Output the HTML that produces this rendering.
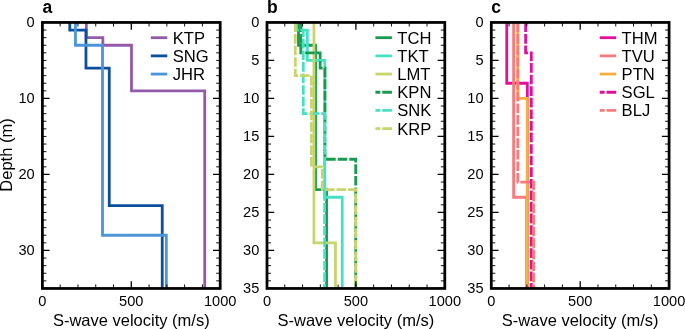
<!DOCTYPE html><html><head><meta charset="utf-8"><style>html,body{margin:0;padding:0;background:#fff;}svg{display:block;filter:blur(0.35px);}text{font-family:"Liberation Sans",sans-serif;fill:#000;}</style></head><body>
<svg width="685" height="329" viewBox="0 0 685 329">
<rect width="685" height="329" fill="#fff"/>
<clipPath id="cpa"><rect x="42.4" y="22.45" width="177.8" height="266"/></clipPath>
<g clip-path="url(#cpa)" fill="none" stroke-width="2.8" stroke-linejoin="miter" stroke-linecap="butt">
<path d="M86.32 22.45 L86.32 37.65 L102.85 37.65 L102.85 45.25 L131.48 45.25 L131.48 90.85 L204.73 90.85 L204.73 288.45" stroke="#925aa9"/>
<path d="M69.78 22.45 L69.78 30.05 L85.96 30.05 L85.96 68.05 L109.25 68.05 L109.25 205.61 L162.24 205.61 L162.24 288.45" stroke="#0b4f9c"/>
<path d="M75.47 22.45 L75.47 45.25 L102.5 45.25 L102.5 235.25 L166.33 235.25 L166.33 288.45" stroke="#4b95d8"/>
</g>
<path d="M42.4 288.45 v-7.2 M42.4 22.45 v7.2 M131.3 288.45 v-7.2 M131.3 22.45 v7.2 M220.2 288.45 v-7.2 M220.2 22.45 v7.2 M42.4 22.45 h7.2 M220.2 22.45 h-7.2 M42.4 98.45 h7.2 M220.2 98.45 h-7.2 M42.4 174.45 h7.2 M220.2 174.45 h-7.2 M42.4 250.45 h7.2 M220.2 250.45 h-7.2" stroke="#000" stroke-width="1.3" fill="none"/>
<path d="M60.18 288.45 v-4 M60.18 22.45 v4 M77.96 288.45 v-4 M77.96 22.45 v4 M95.74 288.45 v-4 M95.74 22.45 v4 M113.52 288.45 v-4 M113.52 22.45 v4 M149.08 288.45 v-4 M149.08 22.45 v4 M166.86 288.45 v-4 M166.86 22.45 v4 M184.64 288.45 v-4 M184.64 22.45 v4 M202.42 288.45 v-4 M202.42 22.45 v4 M42.4 30.05 h4 M220.2 30.05 h-4 M42.4 37.65 h4 M220.2 37.65 h-4 M42.4 45.25 h4 M220.2 45.25 h-4 M42.4 52.85 h4 M220.2 52.85 h-4 M42.4 60.45 h4 M220.2 60.45 h-4 M42.4 68.05 h4 M220.2 68.05 h-4 M42.4 75.65 h4 M220.2 75.65 h-4 M42.4 83.25 h4 M220.2 83.25 h-4 M42.4 90.85 h4 M220.2 90.85 h-4 M42.4 106.05 h4 M220.2 106.05 h-4 M42.4 113.65 h4 M220.2 113.65 h-4 M42.4 121.25 h4 M220.2 121.25 h-4 M42.4 128.85 h4 M220.2 128.85 h-4 M42.4 136.45 h4 M220.2 136.45 h-4 M42.4 144.05 h4 M220.2 144.05 h-4 M42.4 151.65 h4 M220.2 151.65 h-4 M42.4 159.25 h4 M220.2 159.25 h-4 M42.4 166.85 h4 M220.2 166.85 h-4 M42.4 182.05 h4 M220.2 182.05 h-4 M42.4 189.65 h4 M220.2 189.65 h-4 M42.4 197.25 h4 M220.2 197.25 h-4 M42.4 204.85 h4 M220.2 204.85 h-4 M42.4 212.45 h4 M220.2 212.45 h-4 M42.4 220.05 h4 M220.2 220.05 h-4 M42.4 227.65 h4 M220.2 227.65 h-4 M42.4 235.25 h4 M220.2 235.25 h-4 M42.4 242.85 h4 M220.2 242.85 h-4 M42.4 258.05 h4 M220.2 258.05 h-4 M42.4 265.65 h4 M220.2 265.65 h-4 M42.4 273.25 h4 M220.2 273.25 h-4 M42.4 280.85 h4 M220.2 280.85 h-4 M42.4 288.45 h4 M220.2 288.45 h-4" stroke="#000" stroke-width="0.95" fill="none"/>
<rect x="42.4" y="22.45" width="177.8" height="266" fill="none" stroke="#000" stroke-width="2.75"/>
<text x="34.7" y="27.08" font-size="14.6" text-anchor="end">0</text>
<text x="34.7" y="103.08" font-size="14.6" text-anchor="end">10</text>
<text x="34.7" y="179.08" font-size="14.6" text-anchor="end">20</text>
<text x="34.7" y="255.08" font-size="14.6" text-anchor="end">30</text>
<text x="42.4" y="305.6" font-size="14.6" text-anchor="middle">0</text>
<text x="131.3" y="305.6" font-size="14.6" text-anchor="middle">500</text>
<text x="220.2" y="305.6" font-size="14.6" text-anchor="middle">1000</text>
<text x="131.3" y="325.8" font-size="16.5" text-anchor="middle">S-wave velocity (m/s)</text>
<text x="42.4" y="12.8" font-size="17.5" font-weight="bold">a</text>
<path d="M167.3 37.7 h-16.5" stroke="#925aa9" stroke-width="2.8" fill="none"/>
<text x="172.7" y="43.64" font-size="16.6">KTP</text>
<path d="M167.3 55.88 h-16.5" stroke="#0b4f9c" stroke-width="2.8" fill="none"/>
<text x="172.7" y="61.82" font-size="16.6">SNG</text>
<path d="M167.3 74.06 h-16.5" stroke="#4b95d8" stroke-width="2.8" fill="none"/>
<text x="172.7" y="80" font-size="16.6">JHR</text>
<clipPath id="cpb"><rect x="267" y="22.45" width="177.8" height="266"/></clipPath>
<g clip-path="url(#cpb)" fill="none" stroke-width="2.8" stroke-linejoin="miter" stroke-linecap="butt">
<path d="M298.47 22.45 L298.47 45.25 L315.54 45.25 L315.54 189.65 L326.56 189.65 L326.56 288.45" stroke="#1a9a50"/>
<path d="M300.96 22.45 L300.96 30.05 L307.36 30.05 L307.36 60.45 L324.79 60.45 L324.79 197.25 L342.21 197.25 L342.21 288.45" stroke="#48e0c4"/>
<path d="M313.94 22.45 L313.94 242.85 L335.45 242.85 L335.45 288.45" stroke="#c8d46c"/>
<path d="M300.78 22.45 L300.78 52.85 L320.16 52.85 L320.16 68.05 L324.96 68.05 L324.96 159.25 L355.72 159.25 L355.72 288.45" stroke="#1a9a50" stroke-dasharray="9.65 1.93"/>
<path d="M296.51 22.45 L296.51 30.05 L303.27 30.05 L303.27 113.65 L324.61 113.65 L324.61 288.45" stroke="#48e0c4" stroke-dasharray="9.65 1.93"/>
<path d="M295.27 22.45 L295.27 75.65 L311.45 75.65 L311.45 166.85 L322.3 166.85 L322.3 189.65 L355.72 189.65 L355.72 288.45" stroke="#c8d46c" stroke-dasharray="9.65 1.93"/>
</g>
<path d="M267 288.45 v-7.2 M267 22.45 v7.2 M355.9 288.45 v-7.2 M355.9 22.45 v7.2 M444.8 288.45 v-7.2 M444.8 22.45 v7.2 M267 22.45 h7.2 M444.8 22.45 h-7.2 M267 60.45 h7.2 M444.8 60.45 h-7.2 M267 98.45 h7.2 M444.8 98.45 h-7.2 M267 136.45 h7.2 M444.8 136.45 h-7.2 M267 174.45 h7.2 M444.8 174.45 h-7.2 M267 212.45 h7.2 M444.8 212.45 h-7.2 M267 250.45 h7.2 M444.8 250.45 h-7.2 M267 288.45 h7.2 M444.8 288.45 h-7.2" stroke="#000" stroke-width="1.3" fill="none"/>
<path d="M284.78 288.45 v-4 M284.78 22.45 v4 M302.56 288.45 v-4 M302.56 22.45 v4 M320.34 288.45 v-4 M320.34 22.45 v4 M338.12 288.45 v-4 M338.12 22.45 v4 M373.68 288.45 v-4 M373.68 22.45 v4 M391.46 288.45 v-4 M391.46 22.45 v4 M409.24 288.45 v-4 M409.24 22.45 v4 M427.02 288.45 v-4 M427.02 22.45 v4 M267 30.05 h4 M444.8 30.05 h-4 M267 37.65 h4 M444.8 37.65 h-4 M267 45.25 h4 M444.8 45.25 h-4 M267 52.85 h4 M444.8 52.85 h-4 M267 68.05 h4 M444.8 68.05 h-4 M267 75.65 h4 M444.8 75.65 h-4 M267 83.25 h4 M444.8 83.25 h-4 M267 90.85 h4 M444.8 90.85 h-4 M267 106.05 h4 M444.8 106.05 h-4 M267 113.65 h4 M444.8 113.65 h-4 M267 121.25 h4 M444.8 121.25 h-4 M267 128.85 h4 M444.8 128.85 h-4 M267 144.05 h4 M444.8 144.05 h-4 M267 151.65 h4 M444.8 151.65 h-4 M267 159.25 h4 M444.8 159.25 h-4 M267 166.85 h4 M444.8 166.85 h-4 M267 182.05 h4 M444.8 182.05 h-4 M267 189.65 h4 M444.8 189.65 h-4 M267 197.25 h4 M444.8 197.25 h-4 M267 204.85 h4 M444.8 204.85 h-4 M267 220.05 h4 M444.8 220.05 h-4 M267 227.65 h4 M444.8 227.65 h-4 M267 235.25 h4 M444.8 235.25 h-4 M267 242.85 h4 M444.8 242.85 h-4 M267 258.05 h4 M444.8 258.05 h-4 M267 265.65 h4 M444.8 265.65 h-4 M267 273.25 h4 M444.8 273.25 h-4 M267 280.85 h4 M444.8 280.85 h-4" stroke="#000" stroke-width="0.95" fill="none"/>
<rect x="267" y="22.45" width="177.8" height="266" fill="none" stroke="#000" stroke-width="2.75"/>
<text x="259.3" y="27.08" font-size="14.6" text-anchor="end">0</text>
<text x="259.3" y="65.08" font-size="14.6" text-anchor="end">5</text>
<text x="259.3" y="103.08" font-size="14.6" text-anchor="end">10</text>
<text x="259.3" y="141.08" font-size="14.6" text-anchor="end">15</text>
<text x="259.3" y="179.08" font-size="14.6" text-anchor="end">20</text>
<text x="259.3" y="217.08" font-size="14.6" text-anchor="end">25</text>
<text x="259.3" y="255.08" font-size="14.6" text-anchor="end">30</text>
<text x="259.3" y="293.08" font-size="14.6" text-anchor="end">35</text>
<text x="267" y="305.6" font-size="14.6" text-anchor="middle">0</text>
<text x="355.9" y="305.6" font-size="14.6" text-anchor="middle">500</text>
<text x="444.8" y="305.6" font-size="14.6" text-anchor="middle">1000</text>
<text x="355.9" y="325.8" font-size="16.5" text-anchor="middle">S-wave velocity (m/s)</text>
<text x="267" y="12.8" font-size="17.5" font-weight="bold">b</text>
<path d="M391.9 37.7 h-16.5" stroke="#1a9a50" stroke-width="2.8" fill="none"/>
<text x="397.3" y="43.64" font-size="16.6">TCH</text>
<path d="M391.9 55.88 h-16.5" stroke="#48e0c4" stroke-width="2.8" fill="none"/>
<text x="397.3" y="61.82" font-size="16.6">TKT</text>
<path d="M391.9 74.06 h-16.5" stroke="#c8d46c" stroke-width="2.8" fill="none"/>
<text x="397.3" y="80" font-size="16.6">LMT</text>
<path d="M391.9 92.24 h-16.5" stroke="#1a9a50" stroke-width="2.8" fill="none" stroke-dasharray="9.65 1.93"/>
<text x="397.3" y="98.18" font-size="16.6">KPN</text>
<path d="M391.9 110.42 h-16.5" stroke="#48e0c4" stroke-width="2.8" fill="none" stroke-dasharray="9.65 1.93"/>
<text x="397.3" y="116.36" font-size="16.6">SNK</text>
<path d="M391.9 128.6 h-16.5" stroke="#c8d46c" stroke-width="2.8" fill="none" stroke-dasharray="9.65 1.93"/>
<text x="397.3" y="134.54" font-size="16.6">KRP</text>
<clipPath id="cpc"><rect x="491.3" y="22.45" width="177.8" height="266"/></clipPath>
<g clip-path="url(#cpc)" fill="none" stroke-width="2.8" stroke-linejoin="miter" stroke-linecap="butt">
<path d="M506.77 22.45 L506.77 83.25 L527.3 83.25 L527.3 288.45" stroke="#e0109a"/>
<path d="M513.61 22.45 L513.61 197.25 L526.68 197.25 L526.68 288.45" stroke="#f77b7c"/>
<path d="M517.79 22.45 L517.79 98.45 L527.39 98.45 L527.39 288.45" stroke="#f3b03e"/>
<path d="M525.62 22.45 L525.62 52.85 L531.31 52.85 L531.31 288.45" stroke="#e0109a" stroke-dasharray="9.65 1.93"/>
<path d="M517.79 22.45 L517.79 182.05 L533.62 182.05 L533.62 288.45" stroke="#f77b7c" stroke-dasharray="9.65 1.93"/>
</g>
<path d="M491.3 288.45 v-7.2 M491.3 22.45 v7.2 M580.2 288.45 v-7.2 M580.2 22.45 v7.2 M669.1 288.45 v-7.2 M669.1 22.45 v7.2 M491.3 22.45 h7.2 M669.1 22.45 h-7.2 M491.3 60.45 h7.2 M669.1 60.45 h-7.2 M491.3 98.45 h7.2 M669.1 98.45 h-7.2 M491.3 136.45 h7.2 M669.1 136.45 h-7.2 M491.3 174.45 h7.2 M669.1 174.45 h-7.2 M491.3 212.45 h7.2 M669.1 212.45 h-7.2 M491.3 250.45 h7.2 M669.1 250.45 h-7.2 M491.3 288.45 h7.2 M669.1 288.45 h-7.2" stroke="#000" stroke-width="1.3" fill="none"/>
<path d="M509.08 288.45 v-4 M509.08 22.45 v4 M526.86 288.45 v-4 M526.86 22.45 v4 M544.64 288.45 v-4 M544.64 22.45 v4 M562.42 288.45 v-4 M562.42 22.45 v4 M597.98 288.45 v-4 M597.98 22.45 v4 M615.76 288.45 v-4 M615.76 22.45 v4 M633.54 288.45 v-4 M633.54 22.45 v4 M651.32 288.45 v-4 M651.32 22.45 v4 M491.3 30.05 h4 M669.1 30.05 h-4 M491.3 37.65 h4 M669.1 37.65 h-4 M491.3 45.25 h4 M669.1 45.25 h-4 M491.3 52.85 h4 M669.1 52.85 h-4 M491.3 68.05 h4 M669.1 68.05 h-4 M491.3 75.65 h4 M669.1 75.65 h-4 M491.3 83.25 h4 M669.1 83.25 h-4 M491.3 90.85 h4 M669.1 90.85 h-4 M491.3 106.05 h4 M669.1 106.05 h-4 M491.3 113.65 h4 M669.1 113.65 h-4 M491.3 121.25 h4 M669.1 121.25 h-4 M491.3 128.85 h4 M669.1 128.85 h-4 M491.3 144.05 h4 M669.1 144.05 h-4 M491.3 151.65 h4 M669.1 151.65 h-4 M491.3 159.25 h4 M669.1 159.25 h-4 M491.3 166.85 h4 M669.1 166.85 h-4 M491.3 182.05 h4 M669.1 182.05 h-4 M491.3 189.65 h4 M669.1 189.65 h-4 M491.3 197.25 h4 M669.1 197.25 h-4 M491.3 204.85 h4 M669.1 204.85 h-4 M491.3 220.05 h4 M669.1 220.05 h-4 M491.3 227.65 h4 M669.1 227.65 h-4 M491.3 235.25 h4 M669.1 235.25 h-4 M491.3 242.85 h4 M669.1 242.85 h-4 M491.3 258.05 h4 M669.1 258.05 h-4 M491.3 265.65 h4 M669.1 265.65 h-4 M491.3 273.25 h4 M669.1 273.25 h-4 M491.3 280.85 h4 M669.1 280.85 h-4" stroke="#000" stroke-width="0.95" fill="none"/>
<rect x="491.3" y="22.45" width="177.8" height="266" fill="none" stroke="#000" stroke-width="2.75"/>
<text x="483.6" y="27.08" font-size="14.6" text-anchor="end">0</text>
<text x="483.6" y="65.08" font-size="14.6" text-anchor="end">5</text>
<text x="483.6" y="103.08" font-size="14.6" text-anchor="end">10</text>
<text x="483.6" y="141.08" font-size="14.6" text-anchor="end">15</text>
<text x="483.6" y="179.08" font-size="14.6" text-anchor="end">20</text>
<text x="483.6" y="217.08" font-size="14.6" text-anchor="end">25</text>
<text x="483.6" y="255.08" font-size="14.6" text-anchor="end">30</text>
<text x="483.6" y="293.08" font-size="14.6" text-anchor="end">35</text>
<text x="491.3" y="305.6" font-size="14.6" text-anchor="middle">0</text>
<text x="580.2" y="305.6" font-size="14.6" text-anchor="middle">500</text>
<text x="669.1" y="305.6" font-size="14.6" text-anchor="middle">1000</text>
<text x="580.2" y="325.8" font-size="16.5" text-anchor="middle">S-wave velocity (m/s)</text>
<text x="491.3" y="12.8" font-size="17.5" font-weight="bold">c</text>
<path d="M616.2 37.7 h-16.5" stroke="#e0109a" stroke-width="2.8" fill="none"/>
<text x="621.6" y="43.64" font-size="16.6">THM</text>
<path d="M616.2 55.88 h-16.5" stroke="#f77b7c" stroke-width="2.8" fill="none"/>
<text x="621.6" y="61.82" font-size="16.6">TVU</text>
<path d="M616.2 74.06 h-16.5" stroke="#f3b03e" stroke-width="2.8" fill="none"/>
<text x="621.6" y="80" font-size="16.6">PTN</text>
<path d="M616.2 92.24 h-16.5" stroke="#e0109a" stroke-width="2.8" fill="none" stroke-dasharray="9.65 1.93"/>
<text x="621.6" y="98.18" font-size="16.6">SGL</text>
<path d="M616.2 110.42 h-16.5" stroke="#f77b7c" stroke-width="2.8" fill="none" stroke-dasharray="9.65 1.93"/>
<text x="621.6" y="116.36" font-size="16.6">BLJ</text>
<text transform="translate(11.8 155) rotate(-90)" font-size="16.5" text-anchor="middle">Depth (m)</text>
</svg></body></html>
